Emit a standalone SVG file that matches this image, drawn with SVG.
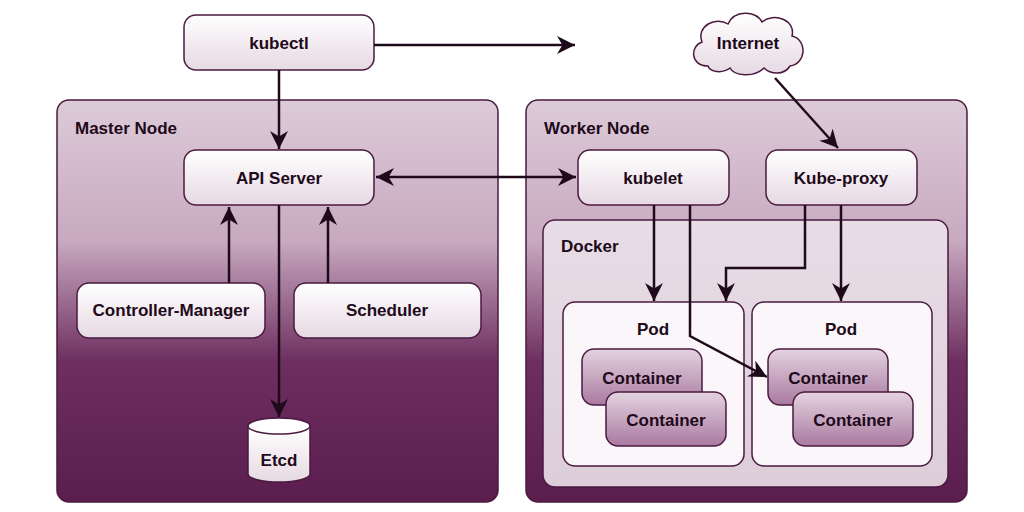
<svg xmlns="http://www.w3.org/2000/svg" width="1024" height="512" viewBox="0 0 1024 512">
<defs>
<linearGradient id="big" x1="0" y1="0" x2="0" y2="1"><stop offset="0" stop-color="#dccbd8"/><stop offset="0.35" stop-color="#c8a9c0"/><stop offset="0.65" stop-color="#6e2f60"/><stop offset="1" stop-color="#5a1d4e"/></linearGradient>
<linearGradient id="dock" x1="0" y1="0" x2="0" y2="1"><stop offset="0" stop-color="#e8dde6"/><stop offset="1" stop-color="#dccdd8"/></linearGradient>
<linearGradient id="node" x1="0" y1="0" x2="0" y2="1"><stop offset="0" stop-color="#ffffff"/><stop offset="1" stop-color="#e6d9e3"/></linearGradient>
<linearGradient id="cont" x1="0" y1="0" x2="0" y2="1"><stop offset="0" stop-color="#e4d3e0"/><stop offset="1" stop-color="#a97aa0"/></linearGradient>
<marker id="ah" viewBox="0 0 10 10" refX="10" refY="5" markerWidth="7" markerHeight="7" orient="auto-start-reverse" markerUnits="userSpaceOnUse"><path d="M0,0 L10,5 L0,10 L3,5 Z" fill="#1e0a1a"/></marker>
<marker id="a" viewBox="0 0 10 10" refX="10" refY="5" markerWidth="18" markerHeight="18" orient="auto-start-reverse" markerUnits="userSpaceOnUse"><path d="M0,0 L10,5 L0,10 L3,5 Z" fill="#1e0a1a"/></marker>
</defs>
<style>
.box{fill:url(#node);stroke:#4a1a40;stroke-width:1.5}
.grp{fill:url(#big);stroke:#4a1a40;stroke-width:1.5}
.cont{fill:url(#cont);stroke:#4a1a40;stroke-width:1.5}
.pod{fill:#faf6f9;stroke:#4a1a40;stroke-width:1.5}
text{font-family:"Liberation Sans",Arial,sans-serif;font-weight:bold;font-size:17px;fill:#1e0a1a}
.c{text-anchor:middle}
.ln{fill:none;stroke:#1e0a1a;stroke-width:2.5;marker-end:url(#a)}
</style>
<rect width="1024" height="512" fill="#fff"/>
<g id="master"><rect class="grp" x="57" y="100" width="441" height="402" rx="12"/><text x="75" y="134">Master Node</text></g>
<g id="worker"><rect class="grp" x="526" y="100" width="441" height="402" rx="12"/><text x="544" y="134">Worker Node</text></g>
<g id="docker"><rect x="543" y="220" width="405" height="267" rx="12" fill="url(#dock)" stroke="#4a1a40" stroke-width="1.5"/><text x="561" y="252">Docker</text></g>
<g id="kubectl"><rect class="box" x="184" y="15" width="190" height="55" rx="12"/><text class="c" x="279" y="49">kubectl</text></g>
<g id="internet"><path d="M708,66 C690,66 690,46 702,42 C696,26 716,16 728,24 C734,10 756,10 762,22 C774,12 796,20 792,36 C808,40 806,64 790,66 C784,76 770,74 764,68 C754,78 734,76 730,68 C722,74 710,72 708,66 Z" fill="url(#node)" stroke="#4a1a40" stroke-width="1.5"/><text class="c" x="748" y="49">Internet</text></g>
<g id="api"><rect class="box" x="184" y="150" width="190" height="55" rx="12"/><text class="c" x="279" y="184">API Server</text></g>
<g id="cm"><rect class="box" x="77" y="283" width="188" height="55" rx="12"/><text class="c" x="171" y="316">Controller-Manager</text></g>
<g id="sched"><rect class="box" x="294" y="283" width="187" height="55" rx="12"/><text class="c" x="387" y="316">Scheduler</text></g>
<g id="etcd"><path d="M248,426 L248,474 A31,8 0 0 0 310,474 L310,426" fill="url(#node)" stroke="#4a1a40" stroke-width="1.5"/><ellipse cx="279" cy="426" rx="31" ry="8" fill="#fff" stroke="#4a1a40" stroke-width="1.5"/><text class="c" x="279" y="466">Etcd</text></g>
<g id="kubelet"><rect class="box" x="578" y="150" width="151" height="55" rx="12"/><text class="c" x="653" y="184">kubelet</text></g>
<g id="kproxy"><rect class="box" x="766" y="150" width="151" height="55" rx="12"/><text class="c" x="841" y="184">Kube-proxy</text></g>
<g id="pod1"><rect class="pod" x="563" y="302" width="181" height="164" rx="12"/><text class="c" x="653" y="335">Pod</text>
<rect class="cont" x="582" y="349" width="120" height="56" rx="12"/><text class="c" x="642" y="384">Container</text>
<rect class="cont" x="606" y="392" width="120" height="54" rx="12"/><text class="c" x="666" y="426">Container</text></g>
<g id="pod2"><rect class="pod" x="752" y="302" width="180" height="164" rx="12"/><text class="c" x="841" y="335">Pod</text>
<rect class="cont" x="768" y="349" width="120" height="56" rx="12"/><text class="c" x="828" y="384">Container</text>
<rect class="cont" x="793" y="392" width="120" height="54" rx="12"/><text class="c" x="853" y="426">Container</text></g>
<g id="connectors">
<path class="ln" d="M374,45 L575,45"/>
<path class="ln" d="M279,70 L279,149"/>
<path class="ln" d="M376,177 L576,177" style="marker-start:url(#a)"/>
<path class="ln" d="M229,283 L229,207"/>
<path class="ln" d="M328,283 L328,207"/>
<path class="ln" d="M279,205 L279,417"/>
<path class="ln" d="M775,78 L838,148"/>
<path class="ln" d="M654,205 L654,301"/>
<path class="ln" d="M690,205 L690,336 L767,377"/>
<path class="ln" d="M805,205 L805,268 L726,268 L726,301"/>
<path class="ln" d="M841,205 L841,301"/>
</g>
</svg>
